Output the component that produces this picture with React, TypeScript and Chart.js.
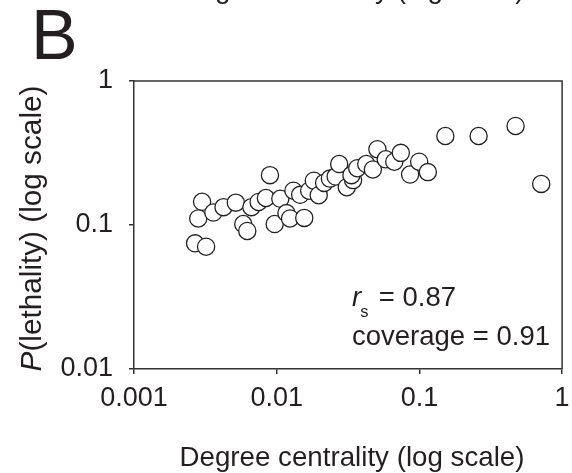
import React, { useEffect, useRef } from 'react';
import { Chart, registerables } from 'chart.js';

Chart.register(...registerables);

// ---- Data ----
const degreeCentrality = [
  0.003, 0.00282, 0.0036, 0.00424, 0.00517, 0.00268, 0.0032, 0.00897, 0.00583, 0.00622,
  0.00665, 0.00747, 0.0084, 0.00968, 0.0106, 0.0117, 0.0124, 0.0156, 0.0131, 0.0146,
  0.0169, 0.0182, 0.0197, 0.0215, 0.0236, 0.0259, 0.0274, 0.031, 0.0343, 0.0334,
  0.0367, 0.0424, 0.0472, 0.0508, 0.0581, 0.0667, 0.0741, 0.0861, 0.0996, 0.1146,
  0.152, 0.26, 0.472, 0.714,
];
const lethality = [
  0.145, 0.111, 0.122, 0.133, 0.143, 0.0746, 0.0707, 0.222, 0.1016, 0.0909,
  0.133, 0.1445, 0.154, 0.1016, 0.152, 0.121, 0.111, 0.112, 0.173, 0.162,
  0.173, 0.203, 0.161, 0.196, 0.21, 0.217, 0.265, 0.183, 0.205, 0.222,
  0.248, 0.265, 0.243, 0.336, 0.286, 0.275, 0.317, 0.224, 0.275, 0.233,
  0.415, 0.415, 0.487, 0.193,
];
const xTickValues = [0.001, 0.01, 0.1, 1];
const xTickLabels = ['0.001', '0.01', '0.1', '1'];
const yTickValues = [0.01, 0.1, 1];
const yTickLabels = ['0.01', '0.1', '1'];

const panelLabel = 'B';
const xTitle = 'Degree centrality (log scale)';
const yTitleItalic = 'P';
const yTitleRest = '(lethality) (log scale)';
const statRLabel = 'r';
const statRSub = 's';
const statRValue = '= 0.87';
const statCoverage = 'coverage = 0.91';

const FONT = '"Liberation Sans", Arial, Helvetica, sans-serif';
const INK = '#231f20';

function fitSize(ctx: CanvasRenderingContext2D, parts: { t: string; style: string }[], target: number) {
  let w = 0;
  for (const p of parts) {
    ctx.font = `${p.style} 100px ${FONT}`;
    w += ctx.measureText(p.t).width;
  }
  return (100 * target) / w;
}

const decor = {
  id: 'decor',
  afterDraw(chart: any) {
    const { ctx, chartArea: a } = chart;
    ctx.save();
    // frame (top & right)
    ctx.strokeStyle = '#333';
    ctx.lineWidth = 1.5;
    ctx.beginPath();
    ctx.moveTo(a.left, a.top);
    ctx.lineTo(a.right, a.top);
    ctx.lineTo(a.right, a.bottom);
    ctx.stroke();

    ctx.fillStyle = INK;
    ctx.textAlign = 'left';
    ctx.textBaseline = 'alphabetic';

    // panel label
    ctx.font = `70px ${FONT}`;
    ctx.fillText(panelLabel, 31, 59);

    // x title (and the cut-off one from the panel above)
    const xs = fitSize(ctx, [{ t: xTitle, style: '' }], 345);
    ctx.font = `${xs}px ${FONT}`;
    ctx.textAlign = 'center';
    ctx.fillText(xTitle, 352, 466);
    ctx.fillText(xTitle, 352, -2.5);
    ctx.textAlign = 'left';

    // y title
    const ys = fitSize(ctx, [{ t: yTitleItalic, style: 'italic' }, { t: yTitleRest, style: '' }], 286);
    ctx.font = `italic ${ys}px ${FONT}`;
    const wP = ctx.measureText(yTitleItalic).width;
    ctx.font = `${ys}px ${FONT}`;
    const wR = ctx.measureText(yTitleRest).width;
    const total = wP + wR;
    ctx.save();
    ctx.translate(41, 228.5 + total / 2);
    ctx.rotate(-Math.PI / 2);
    ctx.font = `italic ${ys}px ${FONT}`;
    ctx.fillText(yTitleItalic, 0, 0);
    ctx.font = `${ys}px ${FONT}`;
    ctx.fillText(yTitleRest, wP, 0);
    ctx.restore();

    // stats
    const ss = fitSize(ctx, [{ t: statCoverage, style: '' }], 198);
    ctx.font = `italic ${ss}px ${FONT}`;
    ctx.fillText(statRLabel, 352, 306);
    const wr = ctx.measureText(statRLabel).width;
    ctx.font = `${ss * 0.6}px ${FONT}`;
    ctx.fillText(statRSub, 352 + wr - 1, 317);
    ctx.font = `${ss}px ${FONT}`;
    ctx.textAlign = 'right';
    ctx.fillText(statRValue, 456, 306);
    ctx.textAlign = 'left';
    ctx.fillText(statCoverage, 352, 345);
    ctx.restore();
  },
};

export default function App() {
  const ref = useRef<HTMLCanvasElement | null>(null);

  useEffect(() => {
    if (!ref.current) return;
    const tickFont = { family: FONT, size: 27 };
    const chart = new Chart(ref.current, {
      type: 'scatter',
      data: {
        datasets: [
          {
            data: degreeCentrality.map((v, i) => ({ x: v, y: lethality[i] })),
            pointRadius: 8.6,
            pointHoverRadius: 8.6,
            borderWidth: 1.3,
            borderColor: '#222',
            backgroundColor: '#ffffff',
          },
        ],
      },
      options: {
        animation: false,
        responsive: false,
        devicePixelRatio: 1,
        events: [],
        layout: { padding: { left: 0, top: 81, right: 6, bottom: 0 } },
        plugins: { legend: { display: false }, tooltip: { enabled: false }, title: { display: false } },
        scales: {
          x: {
            type: 'logarithmic',
            min: 0.001,
            max: 1,
            afterBuildTicks: (ax: any) => {
              ax.ticks = xTickValues.map((v) => ({ value: v }));
            },
            afterFit: (ax: any) => {
              ax.height = 104;
              ax.paddingLeft = 0;
              ax.paddingRight = 0;
            },
            ticks: {
              font: tickFont,
              color: INK,
              padding: 8,
              autoSkip: false,
              maxRotation: 0,
              callback: (v: any) => {
                const i = xTickValues.indexOf(Number(v));
                return i >= 0 ? xTickLabels[i] : '';
              },
            },
            grid: { display: true, drawOnChartArea: false, drawTicks: true, tickLength: 5, color: '#333', lineWidth: 1.5 },
            border: { display: true, color: '#333', width: 1.5 },
          },
          y: {
            type: 'logarithmic',
            min: 0.01,
            max: 1,
            afterBuildTicks: (ax: any) => {
              ax.ticks = yTickValues.map((v) => ({ value: v }));
            },
            afterFit: (ax: any) => {
              ax.width = 134;
              ax.paddingTop = 0;
              ax.paddingBottom = 0;
            },
            ticks: {
              font: tickFont,
              color: INK,
              padding: 16,
              autoSkip: false,
              callback: (v: any) => {
                const i = yTickValues.indexOf(Number(v));
                return i >= 0 ? yTickLabels[i] : '';
              },
            },
            grid: { display: true, drawOnChartArea: false, drawTicks: true, tickLength: 5, color: '#333', lineWidth: 1.5 },
            border: { display: true, color: '#333', width: 1.5 },
          },
        },
      },
      plugins: [decor],
    } as any);
    return () => chart.destroy();
  }, []);

  return (
    <div style={{ position: 'absolute', left: 0, top: 0, width: 572, height: 473, background: '#fff' }}>
      <canvas ref={ref} width={572} height={473} style={{ display: 'block' }} />
    </div>
  );
}
